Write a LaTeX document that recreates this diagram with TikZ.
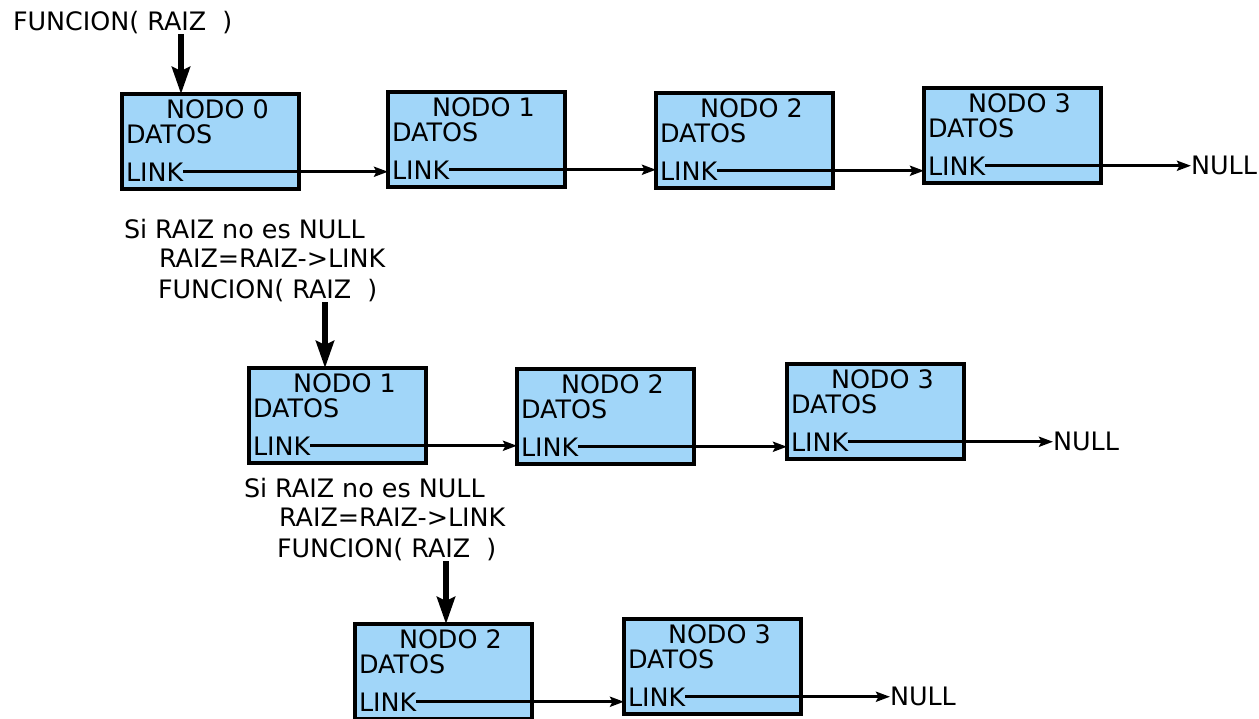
\documentclass[tikz,border=0pt]{standalone}
\usepackage{fontspec}
\setmainfont{DejaVu Sans}
\usetikzlibrary{arrows.meta,calc}
\definecolor{boxfill}{RGB}{161,214,249}
\tikzset{
  nodebox/.style={draw=black, fill=boxfill, line width=3.4pt, minimum width=177pt,
    minimum height=95pt, anchor=north west, inner sep=0pt, outer sep=0pt},
  lbl/.style={anchor=base west, inner sep=0pt, outer sep=0pt,
    font=\fontsize{25.4}{30}\selectfont},
  linkarrow/.style={line width=3pt, -{Stealth[length=14pt,width=10pt,inset=2.5pt]}},
  callarrow/.style={line width=5.5pt, -{Stealth[length=27pt,width=18pt,inset=4pt]}}
}
% one list element: name, left, top, index
\newcommand\listelem[4]{%
  \node[nodebox] (#1) at (#2,#3) {};
  \node[lbl] (#1-t) at ($(#1.north west)+(44,24)$) {NODO #4};
  \node[lbl] (#1-d) at ($(#1.north west)+(4,49)$) {DATOS};
  \node[lbl] (#1-l) at ($(#1.north west)+(4,87)$) {LINK};
}
\begin{document}
\begin{tikzpicture}[x=1pt,y=-1pt]
\useasboundingbox (0,0) rectangle (1259,718);

% first call
\node[lbl] (call0) at (13,30) {FUNCION( RAIZ~~)};
\listelem{a0}{122}{94}{0}
\listelem{a1}{388}{92}{1}
\listelem{a2}{656}{93}{2}
\listelem{a3}{924}{88}{3}
\node[lbl] (nullA) at (1191,174) {NULL};
\draw[linkarrow] (a0-l.east) -- (a0-l.east -| a1.west);
\draw[linkarrow] (a1-l.east) -- (a1-l.east -| a2.west);
\draw[linkarrow] (a2-l.east) -- (a2-l.east -| a3.west);
\draw[linkarrow] (a3-l.east) -- (a3-l.east -| nullA.west);
\coordinate (pA) at (181,34);
\draw[callarrow] (pA) -- (pA |- a0.north);

% second call
\node[lbl] (condB) at (124,238) {Si RAIZ no es NULL};
\node[lbl] (stepB) at (159,267) {RAIZ=RAIZ->LINK};
\node[lbl] (callB) at (158,298) {FUNCION( RAIZ~~)};
\listelem{b1}{249}{368}{1}
\listelem{b2}{517}{369}{2}
\listelem{b3}{787}{364}{3}
\node[lbl] (nullB) at (1053,450) {NULL};
\draw[linkarrow] (b1-l.east) -- (b1-l.east -| b2.west);
\draw[linkarrow] (b2-l.east) -- (b2-l.east -| b3.west);
\draw[linkarrow] (b3-l.east) -- (b3-l.east -| nullB.west);
\coordinate (pB) at (325,302);
\draw[callarrow] (pB) -- (pB |- b1.north);

% third call
\node[lbl] (condC) at (244,497) {Si RAIZ no es NULL};
\node[lbl] (stepC) at (279,526) {RAIZ=RAIZ->LINK};
\node[lbl] (callC) at (277,557) {FUNCION( RAIZ~~)};
\listelem{c2}{355}{624}{2}
\listelem{c3}{624}{619}{3}
\node[lbl] (nullC) at (890,705) {NULL};
\draw[linkarrow] (c2-l.east) -- (c2-l.east -| c3.west);
\draw[linkarrow] (c3-l.east) -- (c3-l.east -| nullC.west);
\coordinate (pC) at (446,561);
\draw[callarrow] (pC) -- (pC |- c2.north);
\end{tikzpicture}
\end{document}
